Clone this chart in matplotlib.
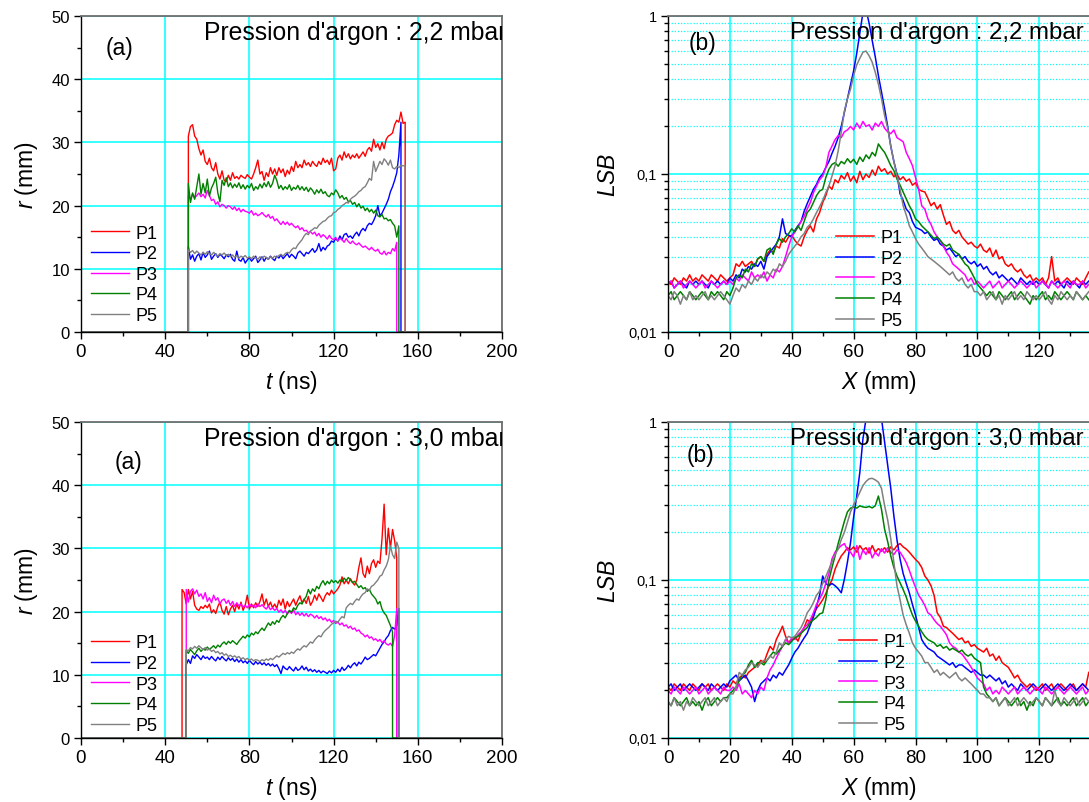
import numpy as np
import matplotlib
matplotlib.use('Agg')
import matplotlib.pyplot as plt
from matplotlib.ticker import MultipleLocator, LogLocator, FixedLocator, FixedFormatter, NullFormatter

plt.rcParams['font.family'] = ['Liberation Sans', 'DejaVu Sans']
plt.rcParams['mathtext.fontset'] = 'custom'
plt.rcParams['mathtext.rm'] = 'Liberation Sans'
plt.rcParams['mathtext.it'] = 'Liberation Sans:italic'

noms = ['P1', 'P2', 'P3', 'P4', 'P5']
couleurs = ['#ff0000', '#0000ff', '#ff00ff', '#008000', '#808080']

# ---- rayon r (mm) en fonction de t (ns), pas de 1 ns a partir de t_debut ----
# 2,2 mbar
debut_22 = [51, 51, 51, 51, 51]
r_22_P1 = [31.0, 32.5, 32.8, 31.0, 30.5, 29.0, 28.0, 28.8, 27.0, 26.5,
           27.5, 26.0, 25.5, 26.8, 25.0, 24.2, 25.5, 24.0, 23.8, 24.8,
           24.0, 25.2, 24.3, 24.6, 24.2, 24.8, 24.5, 24.3, 24.9, 24.5,
           24.2, 25.0, 26.0, 27.2, 25.0, 25.4, 24.0, 25.2, 24.6, 26.0,
           25.0, 25.8, 24.8, 26.0, 25.2, 25.8, 24.6, 25.6, 25.0, 26.2,
           25.4, 27.0, 26.0, 26.5, 26.0, 27.2, 26.4, 26.8, 26.2, 27.0,
           26.5, 26.2, 27.0, 26.5, 27.5, 26.8, 27.2, 26.5, 27.5, 25.5,
           25.8, 27.5, 28.0, 27.2, 28.5, 27.6, 28.2, 27.4, 28.0, 27.6,
           28.2, 27.5, 28.0, 28.5, 27.8, 28.8, 29.2, 28.6, 30.5, 29.2,
           29.8, 28.8, 30.0, 29.0, 30.5, 31.0, 31.2, 31.5, 32.8, 33.5,
           33.2, 34.8, 33.0, 33.2]
r_22_P2 = [13.5, 11.5, 12.2, 11.2, 12.0, 12.4, 11.4, 12.6, 11.8, 12.2,
           12.8, 11.5, 12.0, 12.4, 11.8, 12.3, 12.0, 11.6, 12.2, 11.9,
           12.3, 11.5, 11.2, 12.8, 11.4, 11.2, 11.8, 10.9, 11.4, 11.8,
           11.2, 11.6, 12.0, 11.0, 11.4, 11.9, 11.2, 11.8, 11.5, 12.0,
           11.6, 11.3, 12.0, 11.7, 12.2, 11.6, 12.0, 12.4, 11.8, 12.3,
           12.0, 11.6, 12.5, 12.8, 12.4, 12.0, 12.6, 12.4, 12.8, 13.2,
           12.6, 13.0, 14.0, 12.8, 13.4, 13.0, 13.6, 13.8, 14.4, 14.2,
           14.8, 14.4, 15.2, 14.6, 15.4, 15.6, 15.0, 15.2, 14.8, 15.4,
           15.8, 15.2, 16.0, 16.4, 16.0, 16.8, 17.2, 17.0, 17.6, 18.4,
           20.0, 18.4, 18.8, 19.5, 20.2, 21.0, 22.2, 23.0, 24.0, 25.2,
           28.0, 33.2]
r_22_P3 = [21.5, 21.0, 21.8, 21.2, 21.6, 22.0, 21.4, 21.8, 21.2, 22.4,
           21.6, 20.8, 21.0, 20.2, 20.6, 19.8, 20.2, 20.0, 19.6, 20.0,
           19.8, 19.4, 19.8, 19.2, 19.6, 19.0, 19.4, 19.1, 19.0, 18.8,
           19.2, 18.5, 18.8, 18.4, 18.6, 18.9, 18.5, 18.2, 18.6, 18.0,
           18.3, 17.6, 17.9, 17.4, 17.0, 17.5, 17.0, 17.4, 16.9, 17.2,
           16.8, 16.5, 16.8, 16.2, 16.5, 16.0, 16.1, 15.7, 15.9, 15.5,
           15.8, 15.2, 15.6, 15.0, 15.4, 15.1, 14.7, 15.3, 14.8, 14.6,
           15.0, 14.4, 14.8, 14.6, 14.2, 14.8, 14.3, 14.0, 14.4, 14.0,
           13.8, 14.1, 13.7, 13.4, 13.6, 13.3, 13.0, 13.4, 13.0, 12.8,
           13.1, 12.5, 12.3, 12.8, 12.2, 12.6, 12.4, 13.2, 12.8, 14.2]
r_22_P4 = [23.5, 20.5, 22.0, 21.0, 23.0, 25.0, 21.8, 23.5, 22.0, 24.2,
           21.5, 22.8, 23.5, 24.5, 22.0, 20.6, 24.0, 23.2, 24.4, 23.0,
           23.6, 22.8, 23.4, 22.9, 23.6, 22.7, 23.3, 22.6, 23.2, 22.8,
           23.5, 22.4, 23.0, 22.6, 23.4, 22.8, 23.6, 23.0, 23.8, 22.9,
           23.5, 24.8, 24.0, 22.7, 23.2, 22.5, 23.0, 22.6, 23.3, 22.4,
           22.9, 22.6, 23.2, 22.5, 23.0, 22.4, 22.9, 22.2, 22.8, 22.4,
           21.8, 22.5, 22.0, 22.6, 21.9, 22.2, 21.6, 21.4, 22.0, 21.7,
           22.5, 22.0, 21.2, 21.6, 21.0, 21.3, 20.6, 20.8, 20.2, 20.5,
           19.8, 20.3, 19.6, 19.9, 19.2, 19.6, 19.0, 19.4, 18.8, 19.3,
           18.4, 18.2, 18.6, 17.9, 18.0, 17.6, 17.8, 17.2, 16.8, 15.0,
           16.8]
r_22_P5 = [13.0, 12.6, 12.9, 12.4, 12.8, 12.5, 12.2, 12.6, 12.3, 12.7,
           12.4, 12.2, 12.6, 12.3, 12.0, 12.4, 12.2, 12.5, 12.1, 12.3,
           11.9, 12.2, 11.8, 12.1, 11.7, 12.0, 11.8, 12.1, 11.7, 11.9,
           11.6, 12.0, 11.7, 11.5, 11.9, 11.6, 12.0, 11.8, 11.5, 11.9,
           11.7, 12.0, 11.8, 12.1, 12.3, 12.0, 12.4, 12.6, 12.5, 13.0,
           13.3, 13.2, 13.8, 14.2, 14.6, 15.2, 15.6, 15.4, 16.0, 16.2,
           16.5, 16.4, 16.9, 17.2, 17.5, 17.6, 18.0, 18.3, 18.4, 18.9,
           19.0, 19.4, 19.6, 20.0, 20.2, 20.5, 20.4, 21.0, 21.3, 21.5,
           21.8, 22.2, 22.4, 22.8, 23.0, 23.6, 24.3, 24.0, 27.0, 25.4,
           26.2, 27.0, 26.5, 27.4, 27.0, 26.4, 27.2, 26.0, 25.8, 26.2,
           26.0, 26.4, 26.3, 26.3]

# 3,0 mbar
debut_30 = [48, 50, 50, 50, 50]
r_30_P1 = [23.5, 23.0, 21.2, 23.5, 22.0, 23.2, 21.0, 20.4, 20.2, 20.8,
           20.5, 21.0, 20.6, 21.2, 19.8, 20.3, 19.7, 20.8, 21.5, 20.2,
           19.6, 20.8, 19.5, 20.4, 21.0, 20.0, 21.2, 20.4, 21.5, 20.2,
           21.0, 22.6, 20.4, 21.2, 20.6, 21.4, 20.8, 21.6, 22.8, 21.0,
           22.0, 20.8, 21.5, 20.6, 21.2, 20.5, 21.8, 21.0, 22.0, 20.4,
           21.6, 20.8, 21.4, 22.0, 21.0, 21.8, 22.5, 21.4, 22.0, 21.3,
           22.4, 21.0, 21.6, 22.6, 21.8, 22.8, 22.2, 21.6, 22.5, 23.0,
           22.6, 23.4, 22.8, 23.2, 23.6, 24.2, 25.5, 24.4, 25.0, 24.4,
           25.2, 24.6, 24.2, 25.0, 27.0, 28.5, 26.0, 25.4, 27.2, 26.0,
           27.6, 28.2, 27.0, 28.0, 27.6, 31.5, 37.0, 29.0, 33.2, 30.0,
           33.0, 31.2, 28.5]
r_30_P2 = [11.6, 12.4, 11.8, 13.0, 12.6, 13.2, 12.8, 12.4, 13.0, 12.6,
           12.8, 12.4, 12.9, 12.5, 12.2, 12.8, 12.4, 12.9, 12.5, 12.2,
           12.7, 12.3, 12.6, 12.1, 12.5, 12.0, 12.4, 11.9, 12.2, 11.8,
           12.3, 11.9, 11.6, 12.1, 11.7, 12.0, 11.6, 11.9, 11.5, 11.8,
           11.4, 11.7, 11.3, 11.6, 11.0, 10.2, 11.4, 11.0, 10.8, 11.3,
           10.9, 10.6, 11.2, 10.7, 10.9, 11.4, 10.8, 11.2, 10.6, 10.9,
           10.5, 10.8, 10.4, 10.7, 10.3, 10.6, 10.4, 10.2, 10.6, 10.3,
           10.7, 10.4, 10.9, 10.5, 11.2, 10.7, 11.0, 11.5, 11.1, 11.6,
           11.9, 11.4, 12.0, 11.7, 12.2, 12.8, 12.4, 12.6, 12.9, 13.2,
           13.0, 13.6, 14.2, 14.8, 15.2, 15.8, 16.2, 17.0, 17.5, 17.2,
           17.8, 20.5]
r_30_P3 = [23.5, 21.5, 23.2, 23.6, 22.8, 23.4, 22.4, 22.8, 22.0, 23.0,
           21.6, 22.2, 21.4, 22.6, 21.8, 22.2, 21.2, 21.8, 22.0, 21.3,
           21.8, 21.0, 21.6, 20.8, 21.4, 20.9, 21.2, 20.7, 21.0, 20.6,
           21.2, 20.8, 21.0, 20.6, 21.2, 20.8, 21.1, 20.7, 20.4, 20.9,
           20.3, 20.6, 20.2, 20.5, 19.9, 20.3, 19.8, 20.2, 19.6, 20.1,
           19.7, 20.3, 19.5, 19.9, 19.4, 19.8, 19.3, 19.7, 19.2, 19.6,
           19.4, 19.0, 19.4, 18.9, 19.2, 18.7, 19.0, 18.5, 18.8, 18.3,
           18.6, 18.1, 18.4, 17.9, 18.2, 17.7, 17.9, 17.4, 17.7, 17.2,
           17.4, 16.9, 17.1, 16.6, 16.4, 16.0, 16.3, 15.8, 16.0, 15.5,
           15.7, 15.3, 15.6, 15.1, 15.4, 14.9, 14.7, 15.0, 14.5, 16.2,
           20.5]
r_30_P4 = [13.8, 13.4, 14.0, 13.6, 13.2, 13.8, 14.2, 13.7, 14.1, 13.9,
           14.4, 14.0, 14.3, 14.6, 14.2, 14.7, 14.4, 14.9, 15.2, 14.8,
           15.3, 15.0, 15.4, 15.1, 14.8, 15.3, 15.7, 16.1, 15.8, 16.3,
           16.0, 16.6, 16.3, 16.8, 16.5, 17.0, 17.4, 17.0, 17.6, 18.2,
           17.8, 18.4, 18.0, 18.6, 18.3, 19.0, 19.4, 19.0, 19.7, 20.2,
           19.9, 20.6, 20.3, 21.0, 21.4, 21.2, 21.9, 22.4, 23.5, 22.8,
           23.6, 23.2, 24.0, 23.6, 24.4, 24.9, 24.2, 24.8, 24.4, 25.0,
           24.6, 24.9, 24.5, 25.0, 24.7, 25.3, 24.9, 25.4, 25.0, 24.6,
           24.8, 24.3, 23.8, 24.1, 23.6, 23.8, 23.2, 23.5, 22.8, 22.4,
           22.0, 21.2, 21.6, 20.4, 19.8, 19.4, 18.6, 17.8, 16.8]
r_30_P5 = [14.0, 13.8, 14.3, 14.1, 14.5, 14.2, 14.6, 14.3, 14.0, 14.3,
           13.9, 14.1, 13.7, 13.9, 13.5, 13.7, 13.3, 13.5, 13.1, 13.3,
           12.9, 13.1, 12.8, 13.0, 12.7, 12.9, 12.5, 12.7, 12.4, 12.6,
           12.3, 12.5, 12.2, 12.4, 12.3, 12.1, 12.4, 12.2, 12.5, 12.3,
           12.6, 12.4, 12.7, 13.0, 12.8, 13.1, 13.4, 13.2, 13.5, 13.3,
           13.6, 13.4, 13.8, 14.1, 13.9, 14.3, 14.6, 14.4, 14.8, 15.2,
           15.0, 15.5, 15.9, 16.2, 16.0, 16.6, 17.0, 17.3, 17.6, 18.0,
           18.2, 18.5, 18.3, 18.8, 19.2, 19.0, 20.6, 21.0, 21.3, 21.1,
           21.6, 22.0, 21.8, 22.4, 22.8, 23.0, 23.6, 23.4, 24.0, 24.2,
           24.6, 25.0, 25.6, 25.8, 26.6, 27.2, 28.2, 30.4, 29.0, 28.4,
           31.0, 30.0]

# ---- LSB (x1000) en fonction de X (mm), X = 0..136 pas de 1 mm ----
# 2,2 mbar
lsb_22_P1 = [21, 20, 22, 21, 20, 22, 21, 23, 21, 22,
             21, 23, 22, 21, 23, 22, 21, 23, 22, 21,
             22, 23, 27, 26, 28, 26, 27, 28, 26, 29,
             30, 28, 31, 33, 32, 35, 34, 39, 37, 40,
             41, 38, 36, 35, 40, 44, 47, 43, 52, 57,
             66, 73, 84, 80, 92, 88, 98, 93, 102, 90,
             97, 88, 104, 92, 100, 95, 106, 98, 112, 104,
             108, 100, 104, 96, 100, 92, 96, 90, 93, 85,
             88, 80, 78, 77, 70, 63, 66, 60, 64, 55,
             48, 50, 44, 42, 44, 40, 38, 36, 37, 35,
             34, 36, 33, 32, 34, 30, 33, 29, 30, 27,
             26, 27, 25, 24, 25, 23, 22, 23, 21, 22,
             21, 22, 20, 22, 30, 21, 22, 20, 21, 22,
             21, 20, 22, 21, 20, 22, 24]
lsb_22_P2 = [20, 21, 19, 20, 21, 20, 19, 21, 20, 21,
             20, 21, 20, 19, 21, 20, 21, 20, 21, 20,
             22, 21, 23, 22, 25, 24, 26, 25, 27, 26,
             28, 25, 30, 32, 34, 36, 40, 52, 42, 41,
             40, 44, 47, 50, 58, 65, 72, 80, 86, 95,
             100, 110, 120, 135, 150, 170, 200, 245, 300, 370,
             450, 580, 780, 1050, 1100, 900, 700, 550, 420, 330,
             260, 200, 150, 120, 100, 75, 68, 60, 57, 50,
             46, 45, 44, 42, 43, 40, 38, 39, 36, 35,
             33, 34, 32, 30, 31, 29, 30, 28, 27, 28,
             26, 27, 25, 26, 24, 23, 24, 22, 23, 22,
             21, 22, 21, 20, 22, 21, 20, 21, 20, 21,
             20, 21, 20, 19, 21, 20, 21, 20, 19, 21,
             20, 21, 20, 19, 21, 20, 21]
lsb_22_P3 = [20, 21, 19, 20, 21, 19, 20, 21, 20, 19,
             20, 21, 19, 20, 21, 20, 19, 20, 21, 20,
             21, 20, 22, 21, 23, 22, 21, 24, 22, 23,
             22, 24, 21, 23, 22, 25, 24, 26, 30, 35,
             40, 43, 46, 50, 54, 60, 66, 76, 84, 92,
             97, 110, 137, 150, 165, 175, 170, 185, 190, 200,
             190, 210, 195, 215, 200, 205, 190, 210, 200, 215,
             195, 185, 180, 190, 170, 165, 160, 137, 125, 113,
             95, 80, 63, 60, 52, 48, 43, 40, 38, 35,
             32, 30, 27, 26, 25, 24, 23, 21, 22, 20,
             21, 20, 19, 20, 21, 19, 20, 21, 19, 20,
             21, 20, 19, 20, 21, 20, 19, 20, 21, 19,
             20, 21, 20, 19, 21, 20, 19, 20, 21, 20,
             19, 21, 20, 20, 21, 19, 20]
lsb_22_P4 = [17, 18, 16, 17, 18, 17, 16, 18, 17, 16,
             17, 18, 17, 16, 18, 17, 18, 17, 16, 18,
             17, 19, 22, 23, 22, 25, 24, 27, 26, 29,
             30, 28, 33, 34, 31, 36, 39, 37, 40, 42,
             45, 43, 47, 44, 50, 57, 60, 66, 73, 78,
             80, 95, 107, 115, 118, 112, 120, 116, 125, 118,
             124, 115, 128, 120, 132, 125, 137, 130, 155, 145,
             137, 125, 113, 105, 93, 85, 77, 70, 63, 58,
             52, 50, 47, 45, 43, 41, 39, 40, 38, 36,
             35, 36, 33, 32, 31, 29, 27, 26, 24, 22,
             20, 19, 18, 17, 18, 17, 16, 18, 17, 16,
             17, 18, 16, 17, 18, 17, 16, 15, 17, 16,
             17, 18, 16, 17, 16, 18, 17, 16, 17, 18,
             17, 16, 18, 17, 16, 17, 16]
lsb_22_P5 = [17, 16, 18, 17, 15, 17, 16, 18, 16, 17,
             16, 17, 18, 16, 17, 16, 17, 18, 17, 16,
             15, 17, 19, 18, 20, 19, 21, 20, 22, 21,
             23, 22, 24, 23, 25, 24, 27, 26, 28, 31,
             33, 35, 37, 40, 42, 46, 48, 52, 57, 62,
             68, 76, 84, 97, 113, 140, 184, 250, 300, 345,
             420, 490, 540, 590, 600, 560, 510, 440, 370, 300,
             235, 195, 150, 120, 98, 80, 63, 55, 47, 43,
             39, 36, 34, 32, 30, 29, 28, 27, 26, 25,
             24, 23, 24, 22, 21, 22, 20, 19, 20, 18,
             18, 17, 18, 16, 17, 18, 16, 17, 15, 17,
             16, 17, 18, 16, 17, 16, 18, 17, 16, 17,
             16, 17, 18, 16, 15, 17, 16, 18, 17, 16,
             17, 16, 18, 17, 16, 17, 18]

# 3,0 mbar
lsb_30_P1 = [21, 20, 22, 21, 20, 22, 21, 20, 22, 21,
             20, 22, 21, 22, 20, 21, 22, 21, 20, 22,
             21, 23, 22, 24, 25, 24, 26, 27, 28, 29,
             31, 30, 34, 38, 36, 42, 46, 51, 44, 40,
             42, 44, 41, 46, 50, 56, 54, 60, 66, 70,
             75, 82, 92, 100, 117, 130, 142, 150, 160, 155,
             162, 150, 165, 155, 160, 148, 165, 150, 158, 152,
             160, 150, 162, 155, 165, 170, 162, 157, 150, 142,
             135, 129, 120, 106, 100, 92, 80, 62, 58, 51,
             50, 48, 46, 44, 42, 43, 40, 41, 38, 39,
             37, 36, 35, 37, 33, 34, 31, 33, 30, 29,
             28, 26, 24, 25, 23, 22, 21, 22, 21, 20,
             21, 22, 20, 21, 22, 20, 21, 22, 21, 20,
             21, 22, 20, 21, 22, 21, 26]
lsb_30_P2 = [21, 22, 20, 21, 22, 20, 21, 22, 21, 20,
             21, 22, 21, 20, 22, 21, 20, 21, 22, 21,
             23, 24, 25, 23, 24, 25, 23, 21, 17, 20,
             22, 23, 24, 23, 25, 24, 26, 25, 27, 29,
             32, 35, 37, 40, 43, 46, 52, 58, 68, 80,
             106, 95, 92, 95, 92, 88, 83, 101, 130, 173,
             250, 340, 480, 780, 1050, 1400, 1600, 1500, 1300, 1050,
             750, 530, 380, 255, 180, 136, 110, 95, 83, 70,
             60, 50, 42, 39, 37, 36, 35, 33, 32, 31,
             30, 29, 30, 28, 29, 29, 28, 27, 26, 27,
             26, 25, 25, 24, 25, 24, 23, 24, 22, 23,
             21, 22, 21, 20, 22, 21, 20, 21, 22, 21,
             20, 21, 22, 21, 20, 21, 22, 21, 20, 21,
             22, 21, 20, 21, 22, 21, 20]
lsb_30_P3 = [20, 19, 21, 20, 19, 21, 20, 19, 20, 21,
             19, 20, 21, 19, 20, 21, 20, 19, 21, 20,
             20, 21, 20, 22, 19, 20, 19, 18, 20, 19,
             21, 20, 24, 27, 29, 32, 35, 38, 42, 40,
             43, 42, 45, 47, 50, 52, 56, 62, 70, 76,
             83, 95, 110, 136, 150, 158, 165, 170, 155, 150,
             140, 165, 135, 155, 145, 160, 138, 150, 142, 158,
             148, 160, 150, 145, 155, 150, 140, 129, 115, 101,
             90, 80, 75, 69, 62, 60, 56, 53, 51, 48,
             45, 40, 38, 37, 35, 34, 32, 30, 28, 26,
             24, 23, 22, 20, 21, 19, 20, 19, 21, 20,
             19, 20, 21, 19, 20, 21, 20, 19, 20, 21,
             20, 19, 21, 20, 19, 20, 21, 20, 19, 20,
             21, 20, 19, 20, 21, 19, 20]
lsb_30_P4 = [17, 16, 18, 17, 16, 17, 18, 16, 17, 16,
             17, 15, 17, 18, 16, 17, 18, 17, 18, 18,
             19, 20, 21, 23, 25, 26, 29, 31, 28, 30,
             30, 29, 31, 33, 35, 34, 36, 38, 40, 39,
             41, 43, 44, 46, 48, 50, 54, 56, 58, 61,
             62, 75, 100, 120, 142, 170, 200, 235, 270, 285,
             290, 285, 295, 290, 288, 292, 286, 295, 340, 280,
             210, 175, 142, 120, 106, 96, 87, 78, 68, 60,
             55, 51, 47, 44, 42, 41, 40, 38, 39, 37,
             38, 36, 37, 36, 35, 36, 34, 33, 34, 32,
             31, 30, 21, 19, 18, 17, 18, 16, 17, 18,
             17, 16, 17, 18, 16, 17, 15, 17, 16, 18,
             17, 16, 18, 17, 16, 17, 18, 16, 17, 16,
             17, 18, 16, 17, 18, 16, 17]
lsb_30_P5 = [17, 16, 18, 16, 17, 15, 17, 16, 18, 17,
             16, 17, 18, 16, 17, 18, 16, 17, 18, 17,
             19, 19, 21, 26, 25, 27, 28, 30, 29, 28,
             30, 31, 31, 33, 32, 35, 40, 38, 42, 44,
             43, 44, 47, 50, 55, 62, 66, 72, 80, 85,
             95, 105, 117, 130, 145, 157, 180, 200, 232, 270,
             300, 326, 360, 396, 420, 437, 440, 430, 416, 380,
             296, 240, 182, 130, 92, 75, 60, 52, 46, 40,
             37, 35, 33, 30, 30, 28, 26, 27, 25, 26,
             25, 24, 25, 26, 24, 23, 24, 23, 22, 21,
             20, 19, 19, 18, 18, 17, 18, 16, 17, 18,
             16, 17, 18, 16, 17, 18, 17, 16, 17, 18,
             17, 16, 18, 17, 16, 20, 17, 16, 18, 17,
             16, 17, 18, 16, 17, 18, 17]

W, H = 1089, 803


def pos(x0, y0, w=421, h=316):
    # position en pixels (coin haut gauche) -> fraction de figure
    return [x0 / W, 1 - (y0 + h) / H, w / W, h / H]


def style_commun(ax):
    ax.set_axisbelow(True)
    for cote in ['left', 'bottom']:
        ax.spines[cote].set_color('black')
        ax.spines[cote].set_linewidth(1.0)
    for cote in ['top', 'right']:
        ax.spines[cote].set_color('#6e6e6e')
        ax.spines[cote].set_linewidth(1.3)
    ax.tick_params(which='both', direction='out', top=False, right=False, color='black')
    ax.tick_params(which='major', length=5, width=1.0)
    ax.tick_params(which='minor', length=3, width=1.0)


def legende(ax, x0, y0):
    ax.legend(loc='lower left', bbox_to_anchor=(x0, y0), frameon=False,
              fontsize=13, handlelength=2.1, handletextpad=0.35,
              labelspacing=0.2, borderpad=0, borderaxespad=0)


def tracer_rayon(ax, debuts, rayons, pression, lettre_xy, leg_xy):
    for deb, r, c, nom in zip(debuts, rayons, couleurs, noms):
        t = np.arange(deb, deb + len(r))
        tt = np.concatenate(([0, deb], t, [t[-1], 200]))
        rr = np.concatenate(([0, 0], r, [0, 0]))
        ax.plot(tt, rr, color=c, lw=1.0, label=nom)
    ax.set_xlim(0, 200)
    ax.set_ylim(0, 50)
    ax.xaxis.set_major_locator(MultipleLocator(40))
    ax.xaxis.set_minor_locator(MultipleLocator(20))
    ax.yaxis.set_major_locator(MultipleLocator(10))
    ax.yaxis.set_minor_locator(MultipleLocator(5))
    ax.grid(which='major', color='#00ffff', lw=1.1)
    style_commun(ax)
    ax.tick_params(axis='x', labelsize=13.5, pad=3)
    ax.tick_params(axis='y', labelsize=12, pad=3)
    ax.set_xlabel(r'$t$ (ns)', fontsize=16.5, labelpad=6)
    ax.set_ylabel(r'$r$ (mm)', fontsize=16.5, labelpad=8)
    ax.text(0.291, 0.928, "Pression d'argon : " + pression, transform=ax.transAxes,
            fontsize=17.8, ha='left', va='baseline', clip_on=True)
    ax.text(lettre_xy[0], lettre_xy[1], '(a)', transform=ax.transAxes,
            fontsize=16.5, ha='left', va='baseline')
    legende(ax, *leg_xy)


def tracer_lsb(ax, profils, pression, lettre_xy, leg_xy):
    x = np.arange(len(profils[0]))
    for p, c, nom in zip(profils, couleurs, noms):
        ax.plot(x, np.array(p) / 1000.0, color=c, lw=1.1, label=nom)
    ax.set_yscale('log')
    ax.set_xlim(0, 421 / 3.094)
    ax.set_ylim(0.01, 1)
    ax.xaxis.set_major_locator(MultipleLocator(20))
    ax.xaxis.set_minor_locator(MultipleLocator(10))
    ax.yaxis.set_major_locator(FixedLocator([0.01, 0.1, 1]))
    ax.yaxis.set_major_formatter(FixedFormatter(['0,01', '0,1', '1']))
    ax.yaxis.set_minor_locator(LogLocator(base=10, subs=np.arange(2, 10)))
    ax.yaxis.set_minor_formatter(NullFormatter())
    ax.grid(which='major', color='#00ffff', lw=1.1)
    ax.grid(which='minor', axis='y', color='#00ffff', lw=0.9, ls=(0, (1, 1.5)))
    style_commun(ax)
    ax.spines['right'].set_visible(False)
    ax.tick_params(axis='x', labelsize=13.5, pad=3)
    ax.tick_params(axis='y', labelsize=10.5, pad=3)
    ax.set_xlabel(r'$X$ (mm)', fontsize=16.5, labelpad=6)
    ax.set_ylabel(r'$LSB$', fontsize=16.5, labelpad=6)
    ax.text(0.289, 0.93, "Pression d'argon : " + pression, transform=ax.transAxes,
            fontsize=17.3, ha='left', va='baseline')
    ax.text(lettre_xy[0], lettre_xy[1], '(b)', transform=ax.transAxes,
            fontsize=16.5, ha='left', va='baseline')
    legende(ax, *leg_xy)


fig = plt.figure(figsize=(W / 100, H / 100), dpi=100)
ax1 = fig.add_axes(pos(81, 17))
ax2 = fig.add_axes(pos(668, 17))
ax3 = fig.add_axes(pos(81, 423))
ax4 = fig.add_axes(pos(668, 423))

tracer_rayon(ax1, debut_22, [r_22_P1, r_22_P2, r_22_P3, r_22_P4, r_22_P5],
             '2,2 mbar', (0.059, 0.88), (0.024, 0.025))
tracer_lsb(ax2, [lsb_22_P1, lsb_22_P2, lsb_22_P3, lsb_22_P4, lsb_22_P5],
           '2,2 mbar', (0.048, 0.896), (0.40, 0.010))
tracer_rayon(ax3, debut_30, [r_30_P1, r_30_P2, r_30_P3, r_30_P4, r_30_P5],
             '3,0 mbar', (0.08, 0.855), (0.024, 0.013))
tracer_lsb(ax4, [lsb_30_P1, lsb_30_P2, lsb_30_P3, lsb_30_P4, lsb_30_P5],
           '3,0 mbar', (0.044, 0.878), (0.406, 0.016))

fig.savefig('out.png', dpi=100)
